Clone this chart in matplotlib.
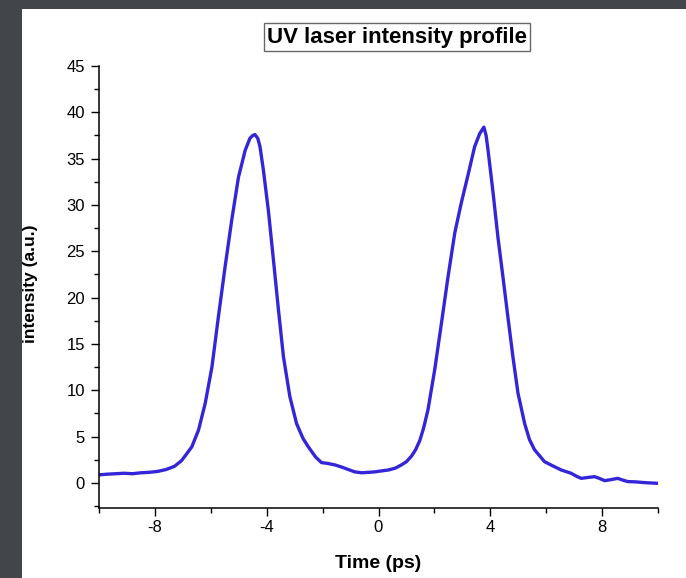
import matplotlib
matplotlib.use("Agg")
import matplotlib.pyplot as plt
from matplotlib.patches import Rectangle
from matplotlib.ticker import MultipleLocator

# values
time_ps = [-10.0, -9.7, -9.4, -9.1, -8.8, -8.5, -8.2, -7.9, -7.6, -7.3,
           -7.05, -6.85, -6.68, -6.44, -6.2, -5.96, -5.73, -5.49, -5.25, -5.01,
           -4.77, -4.6, -4.5, -4.42, -4.32, -4.24, -4.12, -3.94, -3.76, -3.58,
           -3.4, -3.17, -2.93, -2.7, -2.51, -2.25, -2.04, -1.8, -1.56, -1.3,
           -1.08, -0.85, -0.6, -0.35, -0.13, 0.1, 0.35, 0.6, 0.82, 1.0,
           1.18, 1.33, 1.48, 1.62, 1.77, 2.01, 2.25, 2.49, 2.73, 2.96,
           3.2, 3.44, 3.62, 3.77, 3.85, 3.92, 4.1, 4.27, 4.45, 4.63,
           4.81, 4.99, 5.23, 5.4, 5.58, 5.94, 6.2, 6.54, 6.89, 7.1,
           7.25, 7.5, 7.73, 7.9, 8.09, 8.3, 8.56, 8.75, 8.92, 9.2,
           9.51, 9.75, 10.0]
intensity = [0.88, 0.95, 1.0, 1.05, 1.0, 1.1, 1.15, 1.25, 1.45, 1.8,
             2.4, 3.2, 3.9, 5.7, 8.6, 12.5, 17.9, 23.3, 28.4, 33.0,
             35.9, 37.2, 37.5, 37.6, 37.2, 36.3, 33.8, 29.4, 24.1, 18.7,
             13.6, 9.3, 6.4, 4.8, 3.9, 2.8, 2.2, 2.1, 1.95, 1.7,
             1.45, 1.2, 1.1, 1.15, 1.2, 1.3, 1.4, 1.6, 1.95, 2.3,
             2.9, 3.6, 4.6, 6.0, 7.9, 12.2, 17.2, 22.3, 27.0, 30.2,
             33.2, 36.3, 37.7, 38.4, 37.5, 35.9, 31.3, 26.6, 22.3, 17.9,
             13.6, 9.7, 6.4, 4.7, 3.6, 2.3, 1.9, 1.4, 1.05, 0.7,
             0.5, 0.6, 0.68, 0.5, 0.25, 0.35, 0.5, 0.3, 0.15, 0.12,
             0.04, 0.0, -0.04]
x_ticks = [-8, -4, 0, 4, 8]
y_ticks = [0, 5, 10, 15, 20, 25, 30, 35, 40, 45]

plt.rcParams['font.family'] = ['Liberation Sans', 'DejaVu Sans']
plt.rcParams['axes.unicode_minus'] = False

W, H = 686, 578
fig = plt.figure(figsize=(W / 100, H / 100), dpi=100, facecolor='#42464a')
# white page on top of the dark slide background
fig.patches.append(Rectangle((22 / W, 0), 1, 1 - 9 / H, transform=fig.transFigure,
                             facecolor='white', edgecolor='none', zorder=-5))

ax = fig.add_axes([99 / W, 1 - 508 / H, (658 - 99) / W, (508 - 66) / H])
ax.set_facecolor('none')
ax.plot(time_ps, intensity, color='#3426d8', lw=2.4, solid_joinstyle='round')

ax.set_xlim(-10, 10)
ax.set_ylim(-2.7, 45)
ax.set_xticks(x_ticks)
ax.set_yticks(y_ticks)
ax.xaxis.set_minor_locator(MultipleLocator(2))
ax.yaxis.set_minor_locator(MultipleLocator(2.5))
ax.spines['top'].set_visible(False)
ax.spines['right'].set_visible(False)
for s in ['left', 'bottom']:
    ax.spines[s].set_linewidth(1.1)
ax.tick_params(which='major', length=6, width=1, labelsize=12, pad=3)
ax.tick_params(axis='y', which='major', pad=4)
ax.tick_params(which='minor', length=3.5, width=1)

ax.set_xlabel('Time (ps)', fontsize=14, fontweight='bold')
ax.xaxis.set_label_coords(0.5, -0.125)
ax.xaxis.label.set_verticalalignment('center')

fig.text(31 / W, 1 - 284 / H, 'intensity (a.u.)', rotation=90, fontsize=12.5,
         fontweight='bold', ha='center', va='center')

fig.text(397 / W, 1 - 37 / H, 'UV laser intensity profile', fontsize=16,
         fontweight='bold', ha='center', va='center',
         bbox=dict(boxstyle='square,pad=0.15', fc='white', ec='#666666', lw=1))

fig.savefig('out.png', dpi=100, facecolor=fig.get_facecolor())
